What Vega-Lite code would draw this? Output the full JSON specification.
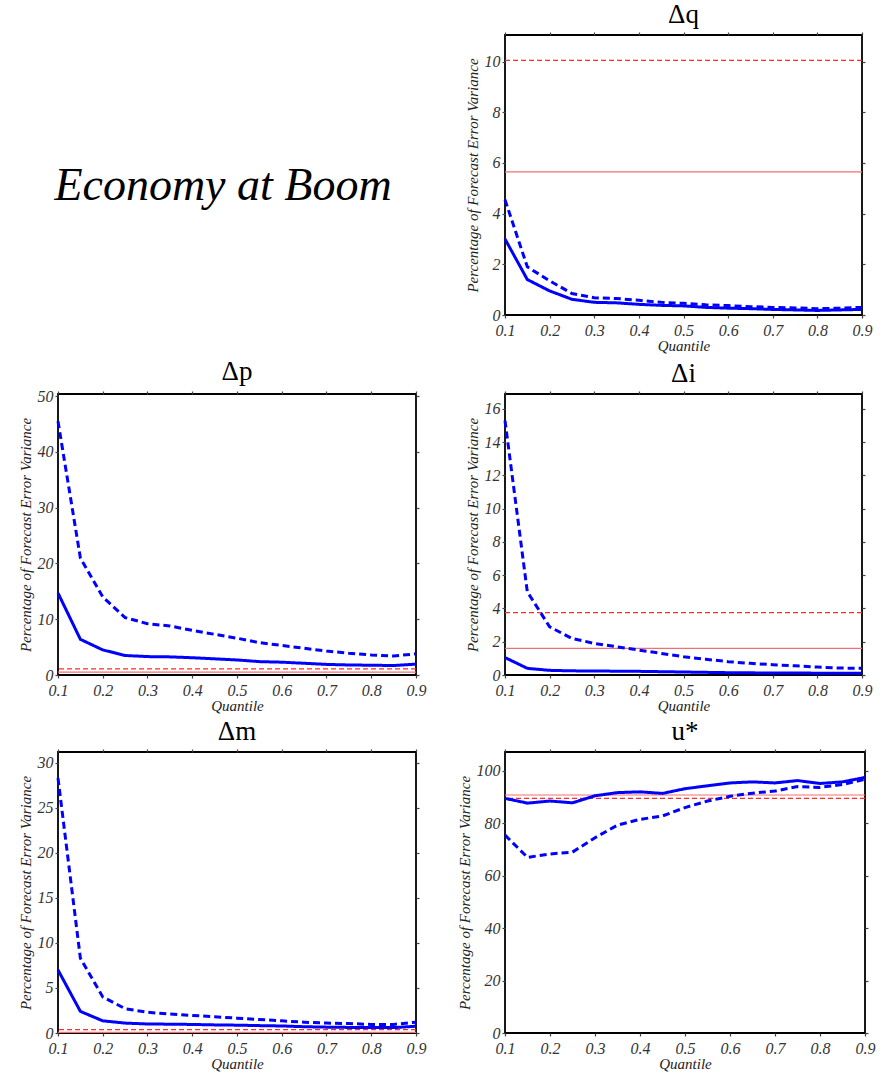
{
  "$schema": "https://vega.github.io/schema/vega-lite/v6.json",
  "background": "white",
  "padding": {"left": 17, "top": 0, "right": 5, "bottom": 0},
  "config": {
    "view": {"stroke": "#000", "strokeWidth": 1.8},
    "axis": {
      "grid": false, "domain": false,
      "labelFont": "Liberation Serif", "labelFontStyle": "italic", "labelFontSize": 16, "labelColor": "#333",
      "titleFont": "Liberation Serif", "titleFontStyle": "italic", "titleFontSize": 15, "titleFontWeight": "normal", "titleColor": "#222",
      "tickColor": "#444", "tickSize": 3, "tickWidth": 1.2,
      "labelFlush": false, "labelOverlap": false, "labelBound": false
    },
    "axisX": {"labelPadding": 4, "titlePadding": 0, "format": ".1f", "values": [0.1,0.2,0.3,0.4,0.5,0.6,0.7,0.8,0.9]},
    "axisY": {"labelPadding": 2, "titlePadding": 4},
    "title": {"font": "Liberation Serif", "fontSize": 27, "fontWeight": "normal", "color": "#000", "offset": 2}
  },
  "datasets": {
    "curves": [
      {"p":"dq","q":0.1,"solid":3.0,"dashed":4.55},{"p":"dq","q":0.15,"solid":1.4,"dashed":1.9},{"p":"dq","q":0.2,"solid":0.95,"dashed":1.35},{"p":"dq","q":0.25,"solid":0.62,"dashed":0.85},{"p":"dq","q":0.3,"solid":0.5,"dashed":0.68},{"p":"dq","q":0.35,"solid":0.48,"dashed":0.65},{"p":"dq","q":0.4,"solid":0.42,"dashed":0.58},{"p":"dq","q":0.45,"solid":0.38,"dashed":0.5},{"p":"dq","q":0.5,"solid":0.36,"dashed":0.46},{"p":"dq","q":0.55,"solid":0.3,"dashed":0.4},{"p":"dq","q":0.6,"solid":0.27,"dashed":0.37},{"p":"dq","q":0.65,"solid":0.25,"dashed":0.33},{"p":"dq","q":0.7,"solid":0.22,"dashed":0.3},{"p":"dq","q":0.75,"solid":0.2,"dashed":0.28},{"p":"dq","q":0.8,"solid":0.18,"dashed":0.25},{"p":"dq","q":0.85,"solid":0.2,"dashed":0.27},{"p":"dq","q":0.9,"solid":0.22,"dashed":0.3},
      {"p":"dp","q":0.1,"solid":14.7,"dashed":45.5},{"p":"dp","q":0.15,"solid":6.4,"dashed":21},{"p":"dp","q":0.2,"solid":4.5,"dashed":14},{"p":"dp","q":0.25,"solid":3.5,"dashed":10.3},{"p":"dp","q":0.3,"solid":3.3,"dashed":9.2},{"p":"dp","q":0.35,"solid":3.25,"dashed":8.8},{"p":"dp","q":0.4,"solid":3.1,"dashed":8.0},{"p":"dp","q":0.45,"solid":2.9,"dashed":7.3},{"p":"dp","q":0.5,"solid":2.7,"dashed":6.6},{"p":"dp","q":0.55,"solid":2.4,"dashed":5.8},{"p":"dp","q":0.6,"solid":2.3,"dashed":5.3},{"p":"dp","q":0.65,"solid":2.1,"dashed":4.8},{"p":"dp","q":0.7,"solid":1.9,"dashed":4.3},{"p":"dp","q":0.75,"solid":1.8,"dashed":3.9},{"p":"dp","q":0.8,"solid":1.75,"dashed":3.6},{"p":"dp","q":0.85,"solid":1.7,"dashed":3.4},{"p":"dp","q":0.9,"solid":1.95,"dashed":3.8},
      {"p":"di","q":0.1,"solid":1.05,"dashed":15.3},{"p":"di","q":0.15,"solid":0.4,"dashed":5.0},{"p":"di","q":0.2,"solid":0.28,"dashed":2.9},{"p":"di","q":0.25,"solid":0.25,"dashed":2.2},{"p":"di","q":0.3,"solid":0.24,"dashed":1.9},{"p":"di","q":0.35,"solid":0.23,"dashed":1.7},{"p":"di","q":0.4,"solid":0.22,"dashed":1.5},{"p":"di","q":0.45,"solid":0.2,"dashed":1.3},{"p":"di","q":0.5,"solid":0.18,"dashed":1.1},{"p":"di","q":0.55,"solid":0.16,"dashed":0.95},{"p":"di","q":0.6,"solid":0.14,"dashed":0.8},{"p":"di","q":0.65,"solid":0.13,"dashed":0.7},{"p":"di","q":0.7,"solid":0.12,"dashed":0.62},{"p":"di","q":0.75,"solid":0.12,"dashed":0.55},{"p":"di","q":0.8,"solid":0.11,"dashed":0.48},{"p":"di","q":0.85,"solid":0.1,"dashed":0.42},{"p":"di","q":0.9,"solid":0.1,"dashed":0.4},
      {"p":"dm","q":0.1,"solid":7.0,"dashed":28.3},{"p":"dm","q":0.15,"solid":2.4,"dashed":8.3},{"p":"dm","q":0.2,"solid":1.35,"dashed":4.0},{"p":"dm","q":0.25,"solid":1.1,"dashed":2.7},{"p":"dm","q":0.3,"solid":1.0,"dashed":2.3},{"p":"dm","q":0.35,"solid":0.98,"dashed":2.1},{"p":"dm","q":0.4,"solid":0.95,"dashed":1.95},{"p":"dm","q":0.45,"solid":0.9,"dashed":1.8},{"p":"dm","q":0.5,"solid":0.87,"dashed":1.65},{"p":"dm","q":0.55,"solid":0.82,"dashed":1.5},{"p":"dm","q":0.6,"solid":0.78,"dashed":1.35},{"p":"dm","q":0.65,"solid":0.7,"dashed":1.2},{"p":"dm","q":0.7,"solid":0.65,"dashed":1.1},{"p":"dm","q":0.75,"solid":0.62,"dashed":1.05},{"p":"dm","q":0.8,"solid":0.6,"dashed":0.95},{"p":"dm","q":0.85,"solid":0.6,"dashed":0.95},{"p":"dm","q":0.9,"solid":0.75,"dashed":1.2},
      {"p":"us","q":0.1,"solid":89.5,"dashed":75.5},{"p":"us","q":0.15,"solid":87.7,"dashed":67},{"p":"us","q":0.2,"solid":88.5,"dashed":68.3},{"p":"us","q":0.25,"solid":87.8,"dashed":69},{"p":"us","q":0.3,"solid":90.5,"dashed":74.5},{"p":"us","q":0.35,"solid":91.7,"dashed":79.3},{"p":"us","q":0.4,"solid":92,"dashed":81.5},{"p":"us","q":0.45,"solid":91.4,"dashed":82.8},{"p":"us","q":0.5,"solid":93.2,"dashed":86},{"p":"us","q":0.55,"solid":94.3,"dashed":88.5},{"p":"us","q":0.6,"solid":95.4,"dashed":90.3},{"p":"us","q":0.65,"solid":95.8,"dashed":91.5},{"p":"us","q":0.7,"solid":95.4,"dashed":92.3},{"p":"us","q":0.75,"solid":96.3,"dashed":94},{"p":"us","q":0.8,"solid":95.2,"dashed":93.7},{"p":"us","q":0.85,"solid":95.8,"dashed":94.8},{"p":"us","q":0.9,"solid":97.5,"dashed":96.8}
    ],
    "refs": [
      {"p":"dq","s":"solid","v":5.65},{"p":"dq","s":"dashed","v":10.05},
      {"p":"dp","s":"solid","v":0.5},{"p":"dp","s":"dashed","v":1.1},
      {"p":"di","s":"solid","v":1.6},{"p":"di","s":"dashed","v":3.75},
      {"p":"dm","s":"solid","v":0.08},{"p":"dm","s":"dashed","v":0.37},
      {"p":"us","s":"solid","v":90.8},{"p":"us","s":"dashed","v":89.5}
    ],
    "label": [{"t":"Economy at Boom","x":0.5,"y":0.5}]
  },
  "columns": 2,
  "spacing": {"row": 3, "column": 29},
  "concat": [
    {
      "width": 330, "height": 302,
      "view": {"stroke": null},
      "data": {"name": "label"},
      "mark": {"type": "text", "font": "Liberation Serif", "fontStyle": "italic", "fontSize": 46, "color": "#000", "align": "center", "baseline": "middle"},
      "encoding": {
        "x": {"field": "x", "type": "quantitative", "scale": {"domain": [0, 1]}, "axis": null},
        "y": {"field": "y", "type": "quantitative", "scale": {"domain": [0, 1]}, "axis": null},
        "text": {"field": "t"}
      }
    },
    {
      "width": 357, "height": 280, "title": "Δq",
      "layer": [
        {"data": {"name": "refs"}, "transform": [{"filter": "datum.p === 'dq'"}],
         "mark": {"type": "rule", "strokeWidth": 1.2},
         "encoding": {"y": {"field": "v", "type": "quantitative", "scale": {"domain": [0, 11.05]}, "axis": null},
           "color": {"field": "s", "type": "nominal", "scale": {"domain": ["solid","dashed"], "range": ["#f07070","#ff2a2a"]}, "legend": null},
           "strokeDash": {"field": "s", "type": "nominal", "scale": {"domain": ["solid","dashed"], "range": [[1,0],[5,3]]}, "legend": null}}},
        {"data": {"name": "curves"}, "transform": [{"filter": "datum.p === 'dq'"}, {"fold": ["solid","dashed"], "as": ["s","v"]}],
         "mark": {"type": "line", "color": "#0000ff", "strokeWidth": 3},
         "encoding": {
           "x": {"field": "q", "type": "quantitative", "scale": {"domain": [0.1, 0.9]}, "axis": {"orient": "bottom", "title": "Quantile"}},
           "y": {"field": "v", "type": "quantitative", "scale": {"domain": [0, 11.05]}, "axis": {"orient": "left", "values": [0,2,4,6,8,10], "title": "Percentage of Forecast Error Variance"}},
           "detail": {"field": "s"},
           "strokeDash": {"field": "s", "type": "nominal", "scale": {"domain": ["solid","dashed"], "range": [[1,0],[7,4]]}, "legend": null}}},
        {"data": {"name": "curves"}, "transform": [{"filter": "datum.p === 'dq'"}],
         "mark": {"type": "point", "opacity": 0},
         "encoding": {
           "x": {"field": "q", "type": "quantitative", "scale": {"domain": [0.1, 0.9]}, "axis": {"orient": "top", "labels": false, "title": null}},
           "y": {"field": "solid", "type": "quantitative", "scale": {"domain": [0, 11.05]}, "axis": {"orient": "right", "values": [0,2,4,6,8,10], "labels": false, "title": null}}}}
      ],
      "resolve": {"axis": {"x": "independent", "y": "independent"}, "scale": {"strokeDash": "independent"}}
    },
    {
      "width": 358, "height": 281, "title": "Δp",
      "layer": [
        {"data": {"name": "refs"}, "transform": [{"filter": "datum.p === 'dp'"}],
         "mark": {"type": "rule", "strokeWidth": 1.2},
         "encoding": {"y": {"field": "v", "type": "quantitative", "scale": {"domain": [0, 50.4]}, "axis": null},
           "color": {"field": "s", "type": "nominal", "scale": {"domain": ["solid","dashed"], "range": ["#f07070","#ff2a2a"]}, "legend": null},
           "strokeDash": {"field": "s", "type": "nominal", "scale": {"domain": ["solid","dashed"], "range": [[1,0],[5,3]]}, "legend": null}}},
        {"data": {"name": "curves"}, "transform": [{"filter": "datum.p === 'dp'"}, {"fold": ["solid","dashed"], "as": ["s","v"]}],
         "mark": {"type": "line", "color": "#0000ff", "strokeWidth": 3},
         "encoding": {
           "x": {"field": "q", "type": "quantitative", "scale": {"domain": [0.1, 0.9]}, "axis": {"orient": "bottom", "title": "Quantile"}},
           "y": {"field": "v", "type": "quantitative", "scale": {"domain": [0, 50.4]}, "axis": {"orient": "left", "values": [0,10,20,30,40,50], "title": "Percentage of Forecast Error Variance"}},
           "detail": {"field": "s"},
           "strokeDash": {"field": "s", "type": "nominal", "scale": {"domain": ["solid","dashed"], "range": [[1,0],[7,4]]}, "legend": null}}},
        {"data": {"name": "curves"}, "transform": [{"filter": "datum.p === 'dp'"}],
         "mark": {"type": "point", "opacity": 0},
         "encoding": {
           "x": {"field": "q", "type": "quantitative", "scale": {"domain": [0.1, 0.9]}, "axis": {"orient": "top", "labels": false, "title": null}},
           "y": {"field": "solid", "type": "quantitative", "scale": {"domain": [0, 50.4]}, "axis": {"orient": "right", "values": [0,10,20,30,40,50], "labels": false, "title": null}}}}
      ],
      "resolve": {"axis": {"x": "independent", "y": "independent"}, "scale": {"strokeDash": "independent"}}
    },
    {
      "width": 357, "height": 281, "title": "Δi",
      "layer": [
        {"data": {"name": "refs"}, "transform": [{"filter": "datum.p === 'di'"}],
         "mark": {"type": "rule", "strokeWidth": 1.2},
         "encoding": {"y": {"field": "v", "type": "quantitative", "scale": {"domain": [0, 16.9]}, "axis": null},
           "color": {"field": "s", "type": "nominal", "scale": {"domain": ["solid","dashed"], "range": ["#ff2020","#ff2a2a"]}, "legend": null},
           "strokeDash": {"field": "s", "type": "nominal", "scale": {"domain": ["solid","dashed"], "range": [[1,0],[5,3]]}, "legend": null}}},
        {"data": {"name": "curves"}, "transform": [{"filter": "datum.p === 'di'"}, {"fold": ["solid","dashed"], "as": ["s","v"]}],
         "mark": {"type": "line", "color": "#0000ff", "strokeWidth": 3},
         "encoding": {
           "x": {"field": "q", "type": "quantitative", "scale": {"domain": [0.1, 0.9]}, "axis": {"orient": "bottom", "title": "Quantile"}},
           "y": {"field": "v", "type": "quantitative", "scale": {"domain": [0, 16.9]}, "axis": {"orient": "left", "values": [0,2,4,6,8,10,12,14,16], "title": "Percentage of Forecast Error Variance"}},
           "detail": {"field": "s"},
           "strokeDash": {"field": "s", "type": "nominal", "scale": {"domain": ["solid","dashed"], "range": [[1,0],[7,4]]}, "legend": null}}},
        {"data": {"name": "curves"}, "transform": [{"filter": "datum.p === 'di'"}],
         "mark": {"type": "point", "opacity": 0},
         "encoding": {
           "x": {"field": "q", "type": "quantitative", "scale": {"domain": [0.1, 0.9]}, "axis": {"orient": "top", "labels": false, "title": null}},
           "y": {"field": "solid", "type": "quantitative", "scale": {"domain": [0, 16.9]}, "axis": {"orient": "right", "values": [0,2,4,6,8,10,12,14,16], "labels": false, "title": null}}}}
      ],
      "resolve": {"axis": {"x": "independent", "y": "independent"}, "scale": {"strokeDash": "independent"}}
    },
    {
      "width": 358, "height": 281, "title": "Δm",
      "layer": [
        {"data": {"name": "refs"}, "transform": [{"filter": "datum.p === 'dm'"}],
         "mark": {"type": "rule", "strokeWidth": 1.2},
         "encoding": {"y": {"field": "v", "type": "quantitative", "scale": {"domain": [0, 31.2]}, "axis": null},
           "color": {"field": "s", "type": "nominal", "scale": {"domain": ["solid","dashed"], "range": ["#e82020","#ff2a2a"]}, "legend": null},
           "strokeDash": {"field": "s", "type": "nominal", "scale": {"domain": ["solid","dashed"], "range": [[1,0],[5,3]]}, "legend": null}}},
        {"data": {"name": "curves"}, "transform": [{"filter": "datum.p === 'dm'"}, {"fold": ["solid","dashed"], "as": ["s","v"]}],
         "mark": {"type": "line", "color": "#0000ff", "strokeWidth": 3},
         "encoding": {
           "x": {"field": "q", "type": "quantitative", "scale": {"domain": [0.1, 0.9]}, "axis": {"orient": "bottom", "title": "Quantile"}},
           "y": {"field": "v", "type": "quantitative", "scale": {"domain": [0, 31.2]}, "axis": {"orient": "left", "values": [0,5,10,15,20,25,30], "title": "Percentage of Forecast Error Variance"}},
           "detail": {"field": "s"},
           "strokeDash": {"field": "s", "type": "nominal", "scale": {"domain": ["solid","dashed"], "range": [[1,0],[7,4]]}, "legend": null}}},
        {"data": {"name": "curves"}, "transform": [{"filter": "datum.p === 'dm'"}],
         "mark": {"type": "point", "opacity": 0},
         "encoding": {
           "x": {"field": "q", "type": "quantitative", "scale": {"domain": [0.1, 0.9]}, "axis": {"orient": "top", "labels": false, "title": null}},
           "y": {"field": "solid", "type": "quantitative", "scale": {"domain": [0, 31.2]}, "axis": {"orient": "right", "values": [0,5,10,15,20,25,30], "labels": false, "title": null}}}}
      ],
      "resolve": {"axis": {"x": "independent", "y": "independent"}, "scale": {"strokeDash": "independent"}}
    },
    {
      "width": 360, "height": 281, "title": "u*",
      "layer": [
        {"data": {"name": "refs"}, "transform": [{"filter": "datum.p === 'us'"}],
         "mark": {"type": "rule", "strokeWidth": 1.2},
         "encoding": {"y": {"field": "v", "type": "quantitative", "scale": {"domain": [0, 107.2]}, "axis": null},
           "color": {"field": "s", "type": "nominal", "scale": {"domain": ["solid","dashed"], "range": ["#f07070","#ff2a2a"]}, "legend": null},
           "strokeDash": {"field": "s", "type": "nominal", "scale": {"domain": ["solid","dashed"], "range": [[1,0],[5,3]]}, "legend": null}}},
        {"data": {"name": "curves"}, "transform": [{"filter": "datum.p === 'us'"}, {"fold": ["solid","dashed"], "as": ["s","v"]}],
         "mark": {"type": "line", "color": "#0000ff", "strokeWidth": 3},
         "encoding": {
           "x": {"field": "q", "type": "quantitative", "scale": {"domain": [0.1, 0.9]}, "axis": {"orient": "bottom", "title": "Quantile"}},
           "y": {"field": "v", "type": "quantitative", "scale": {"domain": [0, 107.2]}, "axis": {"orient": "left", "values": [0,20,40,60,80,100], "title": "Percentage of Forecast Error Variance"}},
           "detail": {"field": "s"},
           "strokeDash": {"field": "s", "type": "nominal", "scale": {"domain": ["solid","dashed"], "range": [[1,0],[7,4]]}, "legend": null}}},
        {"data": {"name": "curves"}, "transform": [{"filter": "datum.p === 'us'"}],
         "mark": {"type": "point", "opacity": 0},
         "encoding": {
           "x": {"field": "q", "type": "quantitative", "scale": {"domain": [0.1, 0.9]}, "axis": {"orient": "top", "labels": false, "title": null}},
           "y": {"field": "solid", "type": "quantitative", "scale": {"domain": [0, 107.2]}, "axis": {"orient": "right", "values": [0,20,40,60,80,100], "labels": false, "title": null}}}}
      ],
      "resolve": {"axis": {"x": "independent", "y": "independent"}, "scale": {"strokeDash": "independent"}}
    }
  ]
}
